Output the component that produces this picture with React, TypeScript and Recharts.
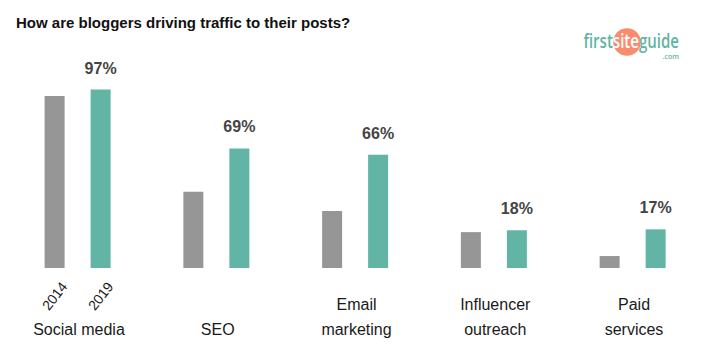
import React from "react";
import { BarChart, Bar, XAxis, YAxis, LabelList } from "recharts";

// Categories (\n marks a line break in the axis label)
const categories = [
  "Social media",
  "SEO",
  "Email\nmarketing",
  "Influencer\noutreach",
  "Paid\nservices",
];
const seriesNames = ["2014", "2019"];
// bar heights as drawn in the picture (percent scale)
const values2014 = [93.5, 41.5, 31, 19.5, 6.5];
const values2019 = [97, 65, 61.5, 20.5, 21];
// value labels printed above the 2019 bars
const labels2019 = ["97%", "69%", "66%", "18%", "17%"];

const title = "How are bloggers driving traffic to their posts?";

const data = categories.map((c, i) => ({
  category: c,
  y2014: values2014[i],
  y2019: values2019[i],
  label: labels2019[i],
}));

const GREY = "#969696";
const TEAL = "#62b4a4";
const FONT = "'Liberation Sans', Arial, sans-serif";

const CategoryTick = (props: any) => {
  const { x, y, payload } = props;
  const lines = String(payload.value).split("\n");
  const n = lines.length;
  return (
    <g>
      {lines.map((ln: string, i: number) => (
        <text
          key={i}
          x={x + 1}
          y={y + 67 - (n - 1 - i) * 25}
          textAnchor="middle"
          fontFamily={FONT}
          fontSize={16}
          fill="#1a1a1a"
        >
          {ln}
        </text>
      ))}
    </g>
  );
};

const yearLabel = (name: string) => (props: any) => {
  const { x, y, width, height, index } = props;
  if (index !== 0) return null;
  const cx = Number(x) + Number(width) / 2;
  const cy = Number(y) + Number(height) + 28;
  return (
    <text
      x={cx}
      y={cy}
      textAnchor="middle"
      dominantBaseline="central"
      transform={`rotate(-52 ${cx} ${cy})`}
      fontFamily={FONT}
      fontSize={14}
      fill="#1a1a1a"
    >
      {name}
    </text>
  );
};

export default function App() {
  return (
    <div style={{ position: "fixed", left: 0, top: 0, width: 711, height: 362, background: "#fff" }}>
      <BarChart
        width={711}
        height={362}
        data={data}
        margin={{ top: 84, right: 8.6, left: 8.6, bottom: 0 }}
        barGap={26}
      >
        <XAxis
          dataKey="category"
          axisLine={false}
          tickLine={false}
          tickSize={0}
          tickMargin={0}
          height={94}
          interval={0}
          tick={<CategoryTick />}
        />
        <YAxis hide domain={[0, 100]} />
        <Bar dataKey="y2014" name={seriesNames[0]} fill={GREY} barSize={20} isAnimationActive={false}>
          <LabelList content={yearLabel(seriesNames[0])} />
        </Bar>
        <Bar dataKey="y2019" name={seriesNames[1]} fill={TEAL} barSize={20} isAnimationActive={false}>
          <LabelList content={yearLabel(seriesNames[1])} />
          <LabelList
            dataKey="label"
            position="top"
            offset={16}
            fontFamily={FONT}
            fontSize={16}
            fontWeight="bold"
            fill="#444"
          />
        </Bar>
      </BarChart>
      <svg
        width={711}
        height={362}
        style={{ position: "absolute", left: 0, top: 0, pointerEvents: "none" }}
      >
        <text x={16} y={28} fontFamily={FONT} fontSize={15} fontWeight="bold" fill="#111">
          {title}
        </text>
        <circle cx={627} cy={42} r={13.8} fill="#f98c6f" />
        <text
          x={583.5}
          y={47.5}
          fontFamily="'Open Sans', sans-serif"
          fontSize={19}
          fontWeight={600}
          textLength={95.5}
          lengthAdjust="spacingAndGlyphs"
        >
          <tspan fill={TEAL}>first</tspan>
          <tspan fill="#fff">site</tspan>
          <tspan fill={TEAL}>guide</tspan>
        </text>
        <text x={670.8} y={58.5} textAnchor="middle" fontFamily="'Open Sans', sans-serif" fontSize={7} fontWeight={600} fill={TEAL}>
          .com
        </text>
      </svg>
    </div>
  );
}
